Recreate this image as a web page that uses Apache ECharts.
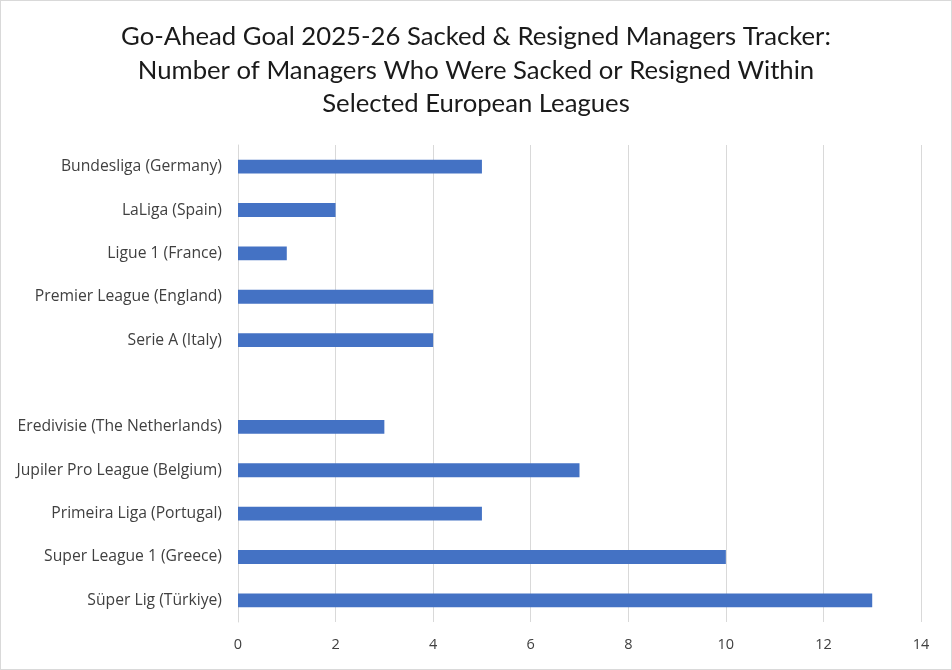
<!DOCTYPE html>
<html><head><meta charset="utf-8">
<script src="https://cdn.jsdelivr.net/npm/echarts@6/dist/echarts.min.js"></script>
<style>html,body{margin:0;padding:0;background:#fff}#c{width:952px;height:670px;box-sizing:border-box;border:1px solid #d9d9d9}</style>
</head><body><div id="c"></div>
<script>
const titleText = "Go-Ahead Goal 2025-26 Sacked & Resigned Managers Tracker:\nNumber of Managers Who Were Sacked or Resigned Within\nSelected European Leagues";
const categories = ["Bundesliga (Germany)","LaLiga (Spain)","Ligue 1 (France)","Premier League (England)","Serie A (Italy)","","Eredivisie (The Netherlands)","Jupiler Pro League (Belgium)","Primeira Liga (Portugal)","Super League 1 (Greece)","Süper Lig (Türkiye)"];
const values = [5,2,1,4,4,null,3,7,5,10,13];
const xTicks = {min:0,max:14,interval:2};

const chart = echarts.init(document.getElementById('c'));
chart.setOption({
  animation:false,
  title:{text:titleText,left:'center',top:14,textStyle:{fontFamily:'Lato',fontSize:25.7,fontWeight:'normal',color:'#1a1a1a',lineHeight:33.5}},
  grid:{left:237,right:30,top:144,bottom:47,containLabel:false},
  xAxis:{type:'value',min:xTicks.min,max:xTicks.max,interval:xTicks.interval,
    axisLine:{show:false},axisTick:{show:false},
    splitLine:{lineStyle:{color:'#d9d9d9',width:1}},
    axisLabel:{fontFamily:'Open Sans',fontSize:14.5,color:'#404040',margin:15}},
  yAxis:{type:'category',data:categories,inverse:true,
    axisLine:{lineStyle:{color:'#d9d9d9'}},axisTick:{show:false},
    axisLabel:{fontFamily:'Open Sans',fontSize:15.7,color:'#404040',margin:16}},
  series:[{type:'bar',data:values,barWidth:'32%',itemStyle:{color:'#4472C4'}}]
});
</script></body></html>
